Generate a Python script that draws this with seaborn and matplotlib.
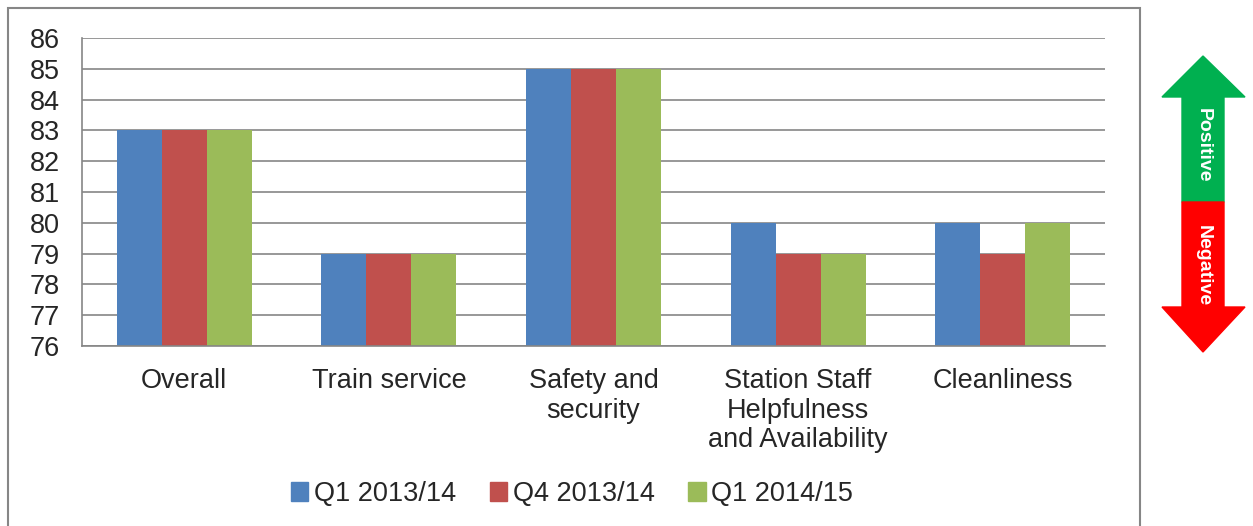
import numpy as np
import pandas as pd
import matplotlib
matplotlib.use('Agg')
import matplotlib.pyplot as plt
from matplotlib.patches import Rectangle, Polygon
import seaborn as sns

categories = ['Overall', 'Train service', 'Safety and\nsecurity',
              'Station Staff\nHelpfulness\nand Availability', 'Cleanliness']
periods = ['Q1 2013/14', 'Q4 2013/14', 'Q1 2014/15']
q1_1314 = [83, 79, 85, 80, 80]
q4_1314 = [83, 79, 85, 79, 79]
q1_1415 = [83, 79, 85, 79, 80]
colors = ['#4F81BD', '#C0504D', '#9BBB59']

df = pd.DataFrame({
    'category': categories * 3,
    'period': [p for p in periods for _ in categories],
    'score': q1_1314 + q4_1314 + q1_1415,
})

sns.set_style('white')
plt.rcParams['font.family'] = ['Liberation Sans', 'DejaVu Sans']

fig = plt.figure(figsize=(12.53, 5.26), dpi=100)
ax = fig.add_axes([82/1253, 1-346/526, (1105-82)/1253, (346-38)/526])

sns.barplot(data=df, x='category', y='score', hue='period', palette=colors,
            width=0.66, saturation=1, linewidth=0, ax=ax, legend=False)

ax.set_ylim(76, 86)
ax.set_xlim(-0.5, len(categories) - 0.5)
ax.set_yticks(range(76, 87))
ax.yaxis.grid(True, color='#868686', linewidth=1.2)
ax.set_axisbelow(True)
ax.set_xlabel('')
ax.set_ylabel('')
for s in ['top', 'right']:
    ax.spines[s].set_visible(False)
for s in ['left', 'bottom']:
    ax.spines[s].set_color('#868686')
    ax.spines[s].set_linewidth(1.2)
ax.tick_params(axis='y', labelsize=19.5, length=7, color='#868686', width=1.2, pad=9)
ax.tick_params(axis='x', which='major', labelsize=19.5, length=0, pad=16)
ax.set_xticks(np.arange(-0.5, len(categories)), minor=True)
ax.tick_params(axis='x', which='minor', length=6, color='#868686', width=1.2)
for lbl in ax.get_xticklabels():
    lbl.set_linespacing(1.17)

# legend
handles = [Rectangle((0, 0), 1, 1, color=c) for c in colors]
fig.legend(handles, periods, loc='center', bbox_to_anchor=(572/1253, 1-494/526),
           ncol=3, frameon=False, fontsize=19.5, handlelength=0.65, handleheight=0.65,
           handletextpad=0.2, columnspacing=1.25)

# outer chart border
fig.patches.append(Rectangle((8/1253, -0.01), (1140-8)/1253, 1-8/526+0.01,
                             transform=fig.transFigure, fill=False,
                             edgecolor='#868686', linewidth=1.5))

# positive / negative arrow
def px(x, y):
    return (x/1253, 1 - y/526)

green = Polygon([px(1162, 97), px(1203, 56), px(1245, 97), px(1224, 97),
                 px(1224, 202), px(1182, 202), px(1182, 97)],
                closed=True, transform=fig.transFigure, color='#00B050')
red = Polygon([px(1182, 202), px(1224, 202), px(1224, 307), px(1245, 307),
               px(1203, 352), px(1162, 307), px(1182, 307)],
              closed=True, transform=fig.transFigure, color='#FF0000')
fig.patches.extend([green, red])
fig.text(*px(1203, 145), 'Positive', rotation=-90, color='white', fontsize=14,
         fontweight='bold', ha='center', va='center')
fig.text(*px(1203, 266), 'Negative', rotation=-90, color='white', fontsize=14,
         fontweight='bold', ha='center', va='center')

fig.savefig('out.png', dpi=100)
